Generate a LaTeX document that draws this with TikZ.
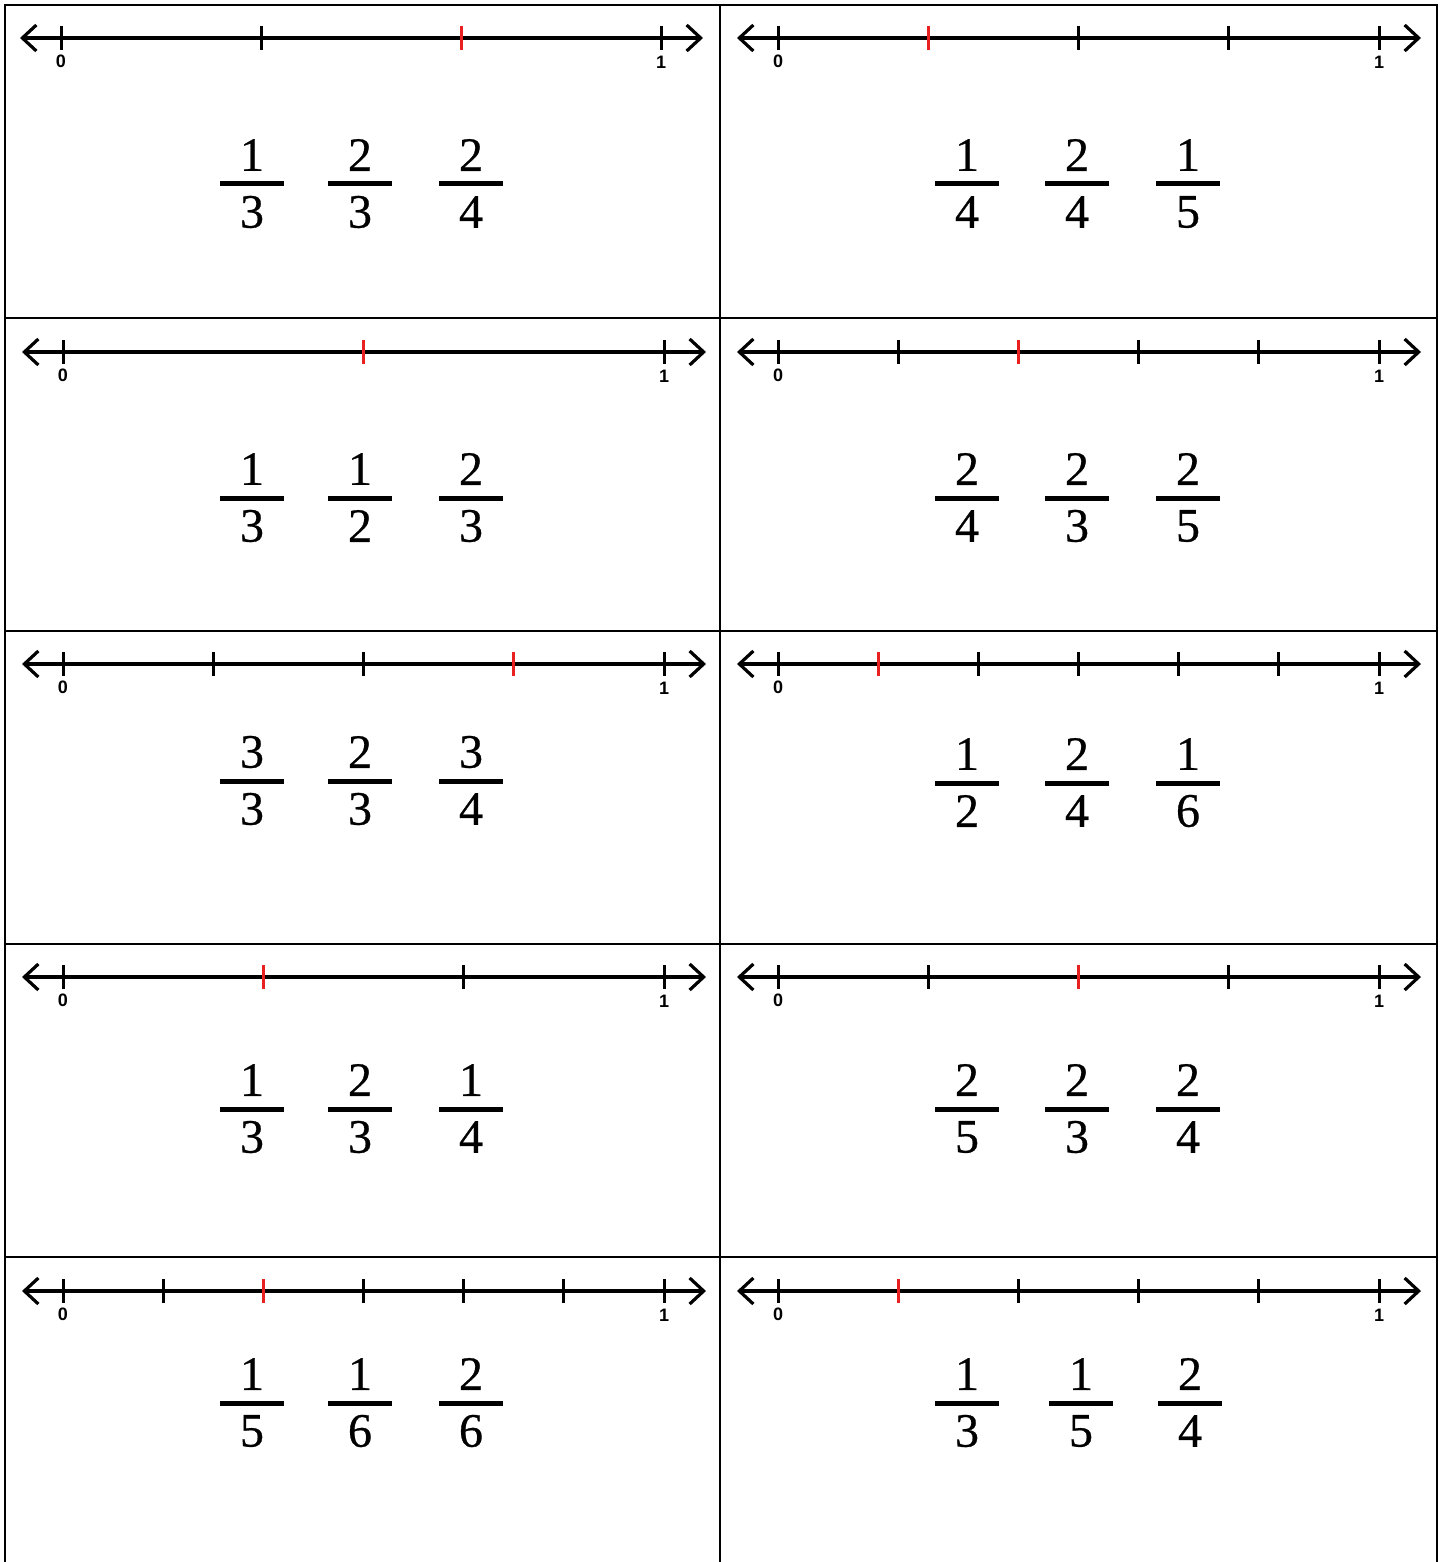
\documentclass[tikz,border=0pt]{standalone}
\usepackage{fontspec}
\newfontfamily\labfont{Liberation Sans}
\newfontfamily\fracfont[FakeBold=0.6]{Liberation Serif}
\usetikzlibrary{arrows.meta}
\definecolor{tickred}{RGB}{232,32,32}
\newcommand\numline[6]{% #1 prefix, #2 x0, #3 x1, #4 y, #5 n, #6 red index
  \draw[axis] (#2-41,#4) -- (#3+42,#4);
  \foreach \k in {0,...,#5}{%
    \pgfmathsetmacro\xx{#2+(#3-#2)*\k/#5}%
    \ifnum\k=#6\relax
      \draw[redtick] (\xx,#4-12) -- (\xx,#4+12);
    \else
      \draw[blacktick] (\xx,#4-12) -- (\xx,#4+12);
    \fi
  }
  \node[lab] (#1zero) at (#2,#4+23) {0};
  \node[lab] (#1one) at (#3,#4+24) {1};
}
\newcommand\frc[5]{% #1 name, #2 x, #3 ybar, #4 num, #5 den
  \node[fr] (#1n) at (#2,#3-29) {#4};
  \draw[fbar] (#2-32,#3) -- (#2+32,#3);
  \node[fr] (#1d) at (#2,#3+28) {#5};
}
\begin{document}
\begin{tikzpicture}[x=1pt,y=-1pt,
  frame/.style={line width=2.6pt,black},
  axis/.style={line width=3.2pt,black,{Straight Barb[length=14pt,width=26pt,line width=3.2pt]}-{Straight Barb[length=14pt,width=26pt,line width=3.2pt]}},
  blacktick/.style={line width=3pt,black},
  redtick/.style={line width=3pt,tickred},
  lab/.style={inner sep=0pt,font=\labfont\bfseries\fontsize{18}{19}\selectfont},
  fr/.style={inner sep=0pt,font=\fracfont\fontsize{48}{58}\selectfont},
  fbar/.style={line width=5pt,black}]
\useasboundingbox (0,0) rectangle (1443,1562);
% frame
\draw[frame] (5,1562) -- (5,5) -- (1437,5) -- (1437,1562);
\draw[frame] (720,5) -- (720,1562);
\foreach \yy in {318,631,944,1257} \draw[frame] (5,\yy) -- (1437,\yy);
% number lines
\numline{Aa}{61}{661}{38}{3}{2}
\numline{Ab}{778}{1379}{38}{4}{1}
\numline{Ba}{63}{664}{352}{2}{1}
\numline{Bb}{778}{1379}{352}{5}{2}
\numline{Ca}{63}{664}{664}{4}{3}
\numline{Cb}{778}{1379}{664}{6}{1}
\numline{Da}{63}{664}{977}{3}{1}
\numline{Db}{778}{1379}{977}{4}{2}
\numline{Ea}{63}{664}{1291}{6}{2}
\numline{Eb}{778}{1379}{1291}{5}{1}
% fractions row 1
\frc{A1}{252}{184}{1}{3}\frc{A2}{360}{184}{2}{3}\frc{A3}{471}{184}{2}{4}
\frc{A4}{967}{184}{1}{4}\frc{A5}{1077}{184}{2}{4}\frc{A6}{1188}{184}{1}{5}
% row 2
\frc{B1}{252}{498}{1}{3}\frc{B2}{360}{498}{1}{2}\frc{B3}{471}{498}{2}{3}
\frc{B4}{967}{498}{2}{4}\frc{B5}{1077}{498}{2}{3}\frc{B6}{1188}{498}{2}{5}
% row 3
\frc{C1}{252}{781}{3}{3}\frc{C2}{360}{781}{2}{3}\frc{C3}{471}{781}{3}{4}
\frc{C4}{967}{783}{1}{2}\frc{C5}{1077}{783}{2}{4}\frc{C6}{1188}{783}{1}{6}
% row 4
\frc{D1}{252}{1109}{1}{3}\frc{D2}{360}{1109}{2}{3}\frc{D3}{471}{1109}{1}{4}
\frc{D4}{967}{1109}{2}{5}\frc{D5}{1077}{1109}{2}{3}\frc{D6}{1188}{1109}{2}{4}
% row 5
\frc{E1}{252}{1403}{1}{5}\frc{E2}{360}{1403}{1}{6}\frc{E3}{471}{1403}{2}{6}
\frc{E4}{967}{1403}{1}{3}\frc{E5}{1081}{1403}{1}{5}\frc{E6}{1190}{1403}{2}{4}
\end{tikzpicture}
\end{document}
